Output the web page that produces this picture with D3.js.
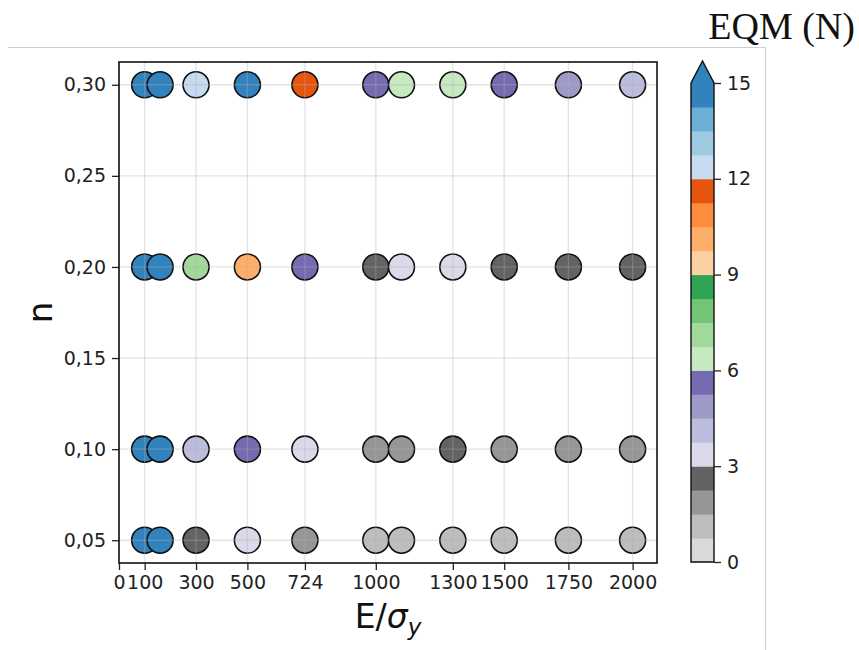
<!DOCTYPE html>
<html>
<head>
<meta charset="utf-8">
<script src="https://cdn.jsdelivr.net/npm/d3@7"></script>
<style>
  body { margin: 0; background: #fff; }
  svg { display: block; }
</style>
</head>
<body>
<svg id="chart" width="859" height="650"></svg>
<script>
// ---- data ----
const xValues = [100, 160, 300, 500, 724, 1000, 1100, 1300, 1500, 1750, 2000];
const nValues = [0.30, 0.20, 0.10, 0.05];
// EQM (N) per row (n), per x value
const eqm030 = [15.5, 15.5, 12.4, 15.5, 11.6, 5.6, 6.4, 6.4, 5.6, 4.9, 4.1];
const eqm020 = [15.5, 15.5, 7.0, 10.1, 5.6, 2.6, 3.4, 3.4, 2.6, 2.6, 2.6];
const eqm010 = [15.5, 15.5, 4.1, 5.6, 3.4, 1.9, 1.9, 2.6, 1.9, 1.9, 1.9];
const eqm005 = [15.5, 15.5, 2.6, 3.4, 1.9, 1.1, 1.1, 1.1, 1.1, 1.1, 1.1];
const eqmRows = [eqm030, eqm020, eqm010, eqm005];
const xTicks = [0, 100, 300, 500, 724, 1000, 1300, 1500, 1750, 2000];
const yTicks = [0.05, 0.10, 0.15, 0.20, 0.25, 0.30];
const cbTicks = [0, 3, 6, 9, 12, 15];
// tab20c reversed (low -> high)
const cmapColors = ["#d9d9d9","#bdbdbd","#969696","#636363",
                    "#dadaeb","#bcbddc","#9e9ac8","#756bb1",
                    "#c7e9c0","#a1d99b","#74c476","#31a354",
                    "#fdd0a2","#fdae6b","#fd8d3c","#e6550d",
                    "#c6dbef","#9ecae1","#6baed6","#3182bd"];

const points = [];
nValues.forEach((n, i) => xValues.forEach((x, j) => points.push({x, n, v: eqmRows[i][j]})));

// ---- layout ----
const svg = d3.select("#chart");
const L = 119, R = 657, T = 62, B = 563;
const x = d3.scaleLinear().domain([0, 2095]).range([L, R]);
const y = d3.scaleLinear().domain([0.0375, 0.3125]).range([B, T]);
const vmin = 0, vmax = 15, nb = cmapColors.length;
const thresholds = d3.range(1, nb).map(i => vmin + i * (vmax - vmin) / nb);
const color = d3.scaleThreshold().domain(thresholds).range(cmapColors);

const font = "DejaVu Sans, sans-serif";

// page frame lines (image crop border)
svg.append("line").attr("x1", 8).attr("x2", 766).attr("y1", 47.5).attr("y2", 47.5)
  .attr("stroke", "#cfcfcf").attr("stroke-width", 1.2);
svg.append("line").attr("x1", 765.5).attr("x2", 765.5).attr("y1", 47).attr("y2", 650)
  .attr("stroke", "#cfcfcf").attr("stroke-width", 1.2);

// points
svg.append("g").selectAll("circle").data(points).join("circle")
  .attr("cx", d => x(d.x)).attr("cy", d => y(d.n)).attr("r", 13)
  .attr("fill", d => color(d.v)).attr("stroke", "#111").attr("stroke-width", 1.6);

// grid (over markers, translucent)
const grid = svg.append("g").attr("stroke", "#b0b0b0").attr("stroke-opacity", 0.35).attr("stroke-width", 1.3);
xTicks.forEach(t => grid.append("line").attr("x1", x(t)).attr("x2", x(t)).attr("y1", T).attr("y2", B));
yTicks.forEach(t => grid.append("line").attr("x1", L).attr("x2", R).attr("y1", y(t)).attr("y2", y(t)));

// axes
const fmtComma = d => d3.format(".2f")(d).replace(".", ",");
const xAxis = svg.append("g").attr("transform", `translate(0,${B})`)
  .call(d3.axisBottom(x).tickValues(xTicks).tickFormat(d3.format("d")).tickSize(7).tickPadding(6));
const yAxis = svg.append("g").attr("transform", `translate(${L},0)`)
  .call(d3.axisLeft(y).tickValues(yTicks).tickFormat(fmtComma).tickSize(7).tickPadding(6));
[xAxis, yAxis].forEach(a => {
  a.select(".domain").remove();
  a.selectAll(".tick line").attr("stroke", "#222").attr("stroke-width", 1.3);
  a.selectAll(".tick text").attr("font-family", font).attr("font-size", 19).attr("fill", "#222");
});
svg.append("rect").attr("x", L).attr("y", T).attr("width", R - L).attr("height", B - T)
  .attr("fill", "none").attr("stroke", "#111").attr("stroke-width", 1.6);

// axis labels
const xl = svg.append("text").attr("x", (L + R) / 2).attr("y", 628).attr("text-anchor", "middle")
  .attr("font-family", font).attr("font-size", 33).attr("fill", "#111");
xl.append("tspan").text("E/");
xl.append("tspan").attr("font-style", "italic").text("σ");
xl.append("tspan").attr("font-style", "italic").attr("font-size", 23).attr("dy", 7).text("y");

svg.append("text").attr("transform", `translate(52,${(T + B) / 2}) rotate(-90)`)
  .attr("text-anchor", "middle").attr("font-family", font).attr("font-size", 34).attr("fill", "#111").text("n");

// colorbar
const cbL = 691, cbW = 23;
const cy = d3.scaleLinear().domain([vmin, vmax]).range([562, 83]);
const bins = cmapColors.map((c, i) => ({c, lo: vmin + i * (vmax - vmin) / nb, hi: vmin + (i + 1) * (vmax - vmin) / nb}));
svg.append("g").selectAll("rect").data(bins).join("rect")
  .attr("x", cbL).attr("width", cbW)
  .attr("y", d => cy(d.hi)).attr("height", d => cy(d.lo) - cy(d.hi) + 0.5)
  .attr("fill", d => d.c);
svg.append("path")
  .attr("d", `M${cbL},${cy(vmax)} L${cbL + cbW / 2},61 L${cbL + cbW},${cy(vmax)}`)
  .attr("fill", cmapColors[nb - 1]);
svg.append("path")
  .attr("d", `M${cbL},${cy(vmin)} L${cbL},${cy(vmax)} L${cbL + cbW / 2},61 L${cbL + cbW},${cy(vmax)} L${cbL + cbW},${cy(vmin)} Z`)
  .attr("fill", "none").attr("stroke", "#111").attr("stroke-width", 1.4);
const cbAxis = svg.append("g").attr("transform", `translate(${cbL + cbW},0)`)
  .call(d3.axisRight(cy).tickValues(cbTicks).tickFormat(d3.format("d")).tickSize(7).tickPadding(6));
cbAxis.select(".domain").remove();
cbAxis.selectAll(".tick line").attr("stroke", "#222").attr("stroke-width", 1.3);
cbAxis.selectAll(".tick text").attr("font-family", font).attr("font-size", 19).attr("fill", "#222");

// colorbar title
svg.append("text").attr("x", 855).attr("y", 39).attr("text-anchor", "end")
  .attr("font-family", "Liberation Serif, Times New Roman, serif").attr("font-size", 38)
  .attr("fill", "#111").text("EQM (N)");
</script>
</body>
</html>
